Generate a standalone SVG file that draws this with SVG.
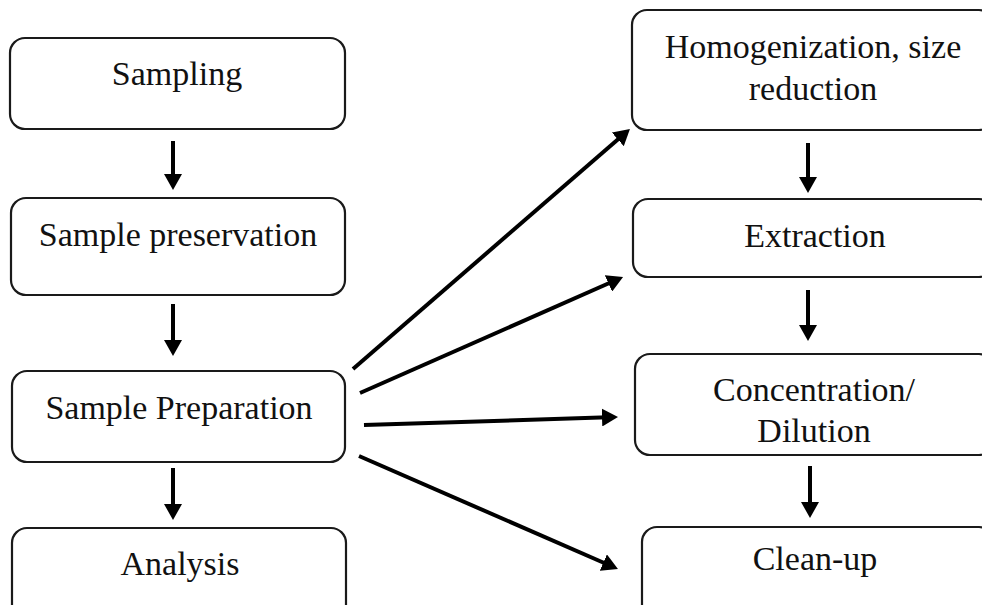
<svg xmlns="http://www.w3.org/2000/svg" width="982" height="605" viewBox="0 0 982 605">
<style>
.box{fill:#fff;stroke:#1a1a1a;stroke-width:2.2}
.lbl{font-family:"Liberation Serif","Times New Roman",serif;font-size:34px;fill:#111;text-anchor:middle}
.arr{stroke:#000;stroke-width:4;fill:none;marker-end:url(#ah)}
</style>
<defs>
<marker id="ah" markerUnits="userSpaceOnUse" markerWidth="18" markerHeight="18" refX="6" refY="9" orient="auto">
<path d="M0,0 L16,9 L0,18 z" fill="#000"/>
</marker>
</defs>
<rect width="982" height="605" fill="#fff"/>
<g id="sampling"><rect class="box" x="10" y="38" width="335" height="91" rx="15"/><text class="lbl" x="177" y="85">Sampling</text></g>
<g id="preservation"><rect class="box" x="11" y="198" width="334" height="97" rx="15"/><text class="lbl" x="178" y="246">Sample preservation</text></g>
<g id="preparation"><rect class="box" x="12" y="371" width="333" height="91" rx="15"/><text class="lbl" x="179" y="419">Sample Preparation</text></g>
<g id="analysis"><rect class="box" x="12" y="528" width="334" height="100" rx="15"/><text class="lbl" x="180" y="575">Analysis</text></g>
<g id="homogenization"><rect class="box" x="632" y="10" width="362" height="120" rx="15"/><text class="lbl" x="813" y="58">Homogenization, size</text><text class="lbl" x="813" y="100">reduction</text></g>
<g id="extraction"><rect class="box" x="633" y="199" width="361" height="78" rx="15"/><text class="lbl" x="815" y="247">Extraction</text></g>
<g id="concentration"><rect class="box" x="635" y="354" width="359" height="101" rx="15"/><text class="lbl" x="814" y="401">Concentration/</text><text class="lbl" x="814" y="442">Dilution</text></g>
<g id="cleanup"><rect class="box" x="642" y="527" width="352" height="100" rx="15"/><text class="lbl" x="815" y="570">Clean-up</text></g>
<g id="connectors">
<line class="arr" x1="173" y1="141" x2="173" y2="180"/>
<line class="arr" x1="173" y1="304" x2="173" y2="346"/>
<line class="arr" x1="173" y1="468" x2="173" y2="510"/>
<line class="arr" x1="808" y1="143" x2="808" y2="183"/>
<line class="arr" x1="808" y1="290" x2="808" y2="331"/>
<line class="arr" x1="810" y1="466" x2="810" y2="508"/>
<line class="arr" x1="353" y1="369" x2="622.4" y2="135.5"/>
<line class="arr" x1="360" y1="393" x2="613.9" y2="281"/>
<line class="arr" x1="364" y1="425" x2="608" y2="417.3"/>
<line class="arr" x1="359" y1="456" x2="608.8" y2="565"/>
</g>
</svg>
